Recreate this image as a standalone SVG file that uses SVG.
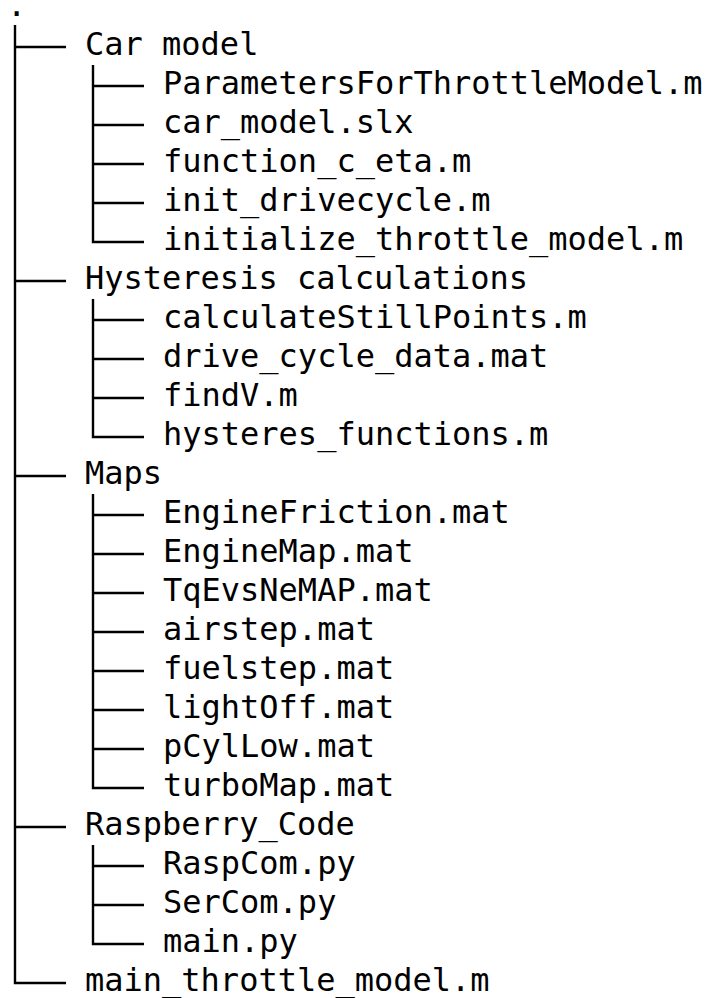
<svg xmlns="http://www.w3.org/2000/svg" width="713" height="998" viewBox="0 0 713 998">
<style>
text{font-family:"DejaVu Sans Mono","Liberation Mono",monospace;font-size:32px;fill:#000}
.c path{fill:none;stroke:#000;stroke-width:2.4}
</style>
<rect width="713" height="998" fill="#fff"/>
<g class="c" id="connectors">
<path d="M15 25V983H66"/>
<path d="M15 47H66M15 281H66M15 476H66M15 827H66"/>
<path d="M93 65V242H144M93 86H144M93 125H144M93 164H144M93 203H144"/>
<path d="M93 299V437H144M93 320H144M93 359H144M93 398H144"/>
<path d="M93 494V788H144M93 515H144M93 554H144M93 593H144M93 632H144M93 671H144M93 710H144M93 749H144"/>
<path d="M93 845V944H144M93 866H144M93 905H144"/>
</g>
<g id="root"><text x="7" y="16">.</text></g>
<g id="car-model"><text x="85" y="55">Car model</text></g>
<g id="car-model-files">
<text x="163" y="94">ParametersForThrottleModel.m</text>
<text x="163" y="133">car_model.slx</text>
<text x="163" y="172">function_c_eta.m</text>
<text x="163" y="211">init_drivecycle.m</text>
<text x="163" y="250">initialize_throttle_model.m</text>
</g>
<g id="hysteresis"><text x="85" y="289">Hysteresis calculations</text></g>
<g id="hysteresis-files">
<text x="163" y="328">calculateStillPoints.m</text>
<text x="163" y="367">drive_cycle_data.mat</text>
<text x="163" y="406">findV.m</text>
<text x="163" y="445">hysteres_functions.m</text>
</g>
<g id="maps"><text x="85" y="484">Maps</text></g>
<g id="maps-files">
<text x="163" y="523">EngineFriction.mat</text>
<text x="163" y="562">EngineMap.mat</text>
<text x="163" y="601">TqEvsNeMAP.mat</text>
<text x="163" y="640">airstep.mat</text>
<text x="163" y="679">fuelstep.mat</text>
<text x="163" y="718">lightOff.mat</text>
<text x="163" y="757">pCylLow.mat</text>
<text x="163" y="796">turboMap.mat</text>
</g>
<g id="raspberry"><text x="85" y="835">Raspberry_Code</text></g>
<g id="raspberry-files">
<text x="163" y="874">RaspCom.py</text>
<text x="163" y="913">SerCom.py</text>
<text x="163" y="952">main.py</text>
</g>
<g id="main-file"><text x="85" y="991">main_throttle_model.m</text></g>
</svg>
